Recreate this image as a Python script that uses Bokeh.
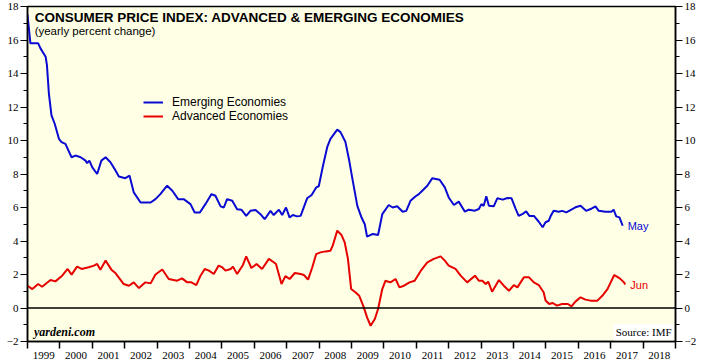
from bokeh.plotting import figure
from bokeh.models import (Range1d, LinearAxis, FixedTicker, Span, Label, Legend, LegendItem)
from bokeh.core.properties import value
from bokeh.embed import file_html
from bokeh.resources import INLINE

# ---------------- data ----------------
years = list(range(1999, 2019))
year_labels = [str(y) for y in years]

em_t = [1999.00, 1999.09, 1999.33, 1999.40, 1999.56, 1999.60, 1999.66, 1999.74, 1999.84, 1999.97,
        2000.05, 2000.17, 2000.36, 2000.48, 2000.64, 2000.79, 2000.84, 2000.91, 2001.00, 2001.15,
        2001.28, 2001.41, 2001.56, 2001.72, 2001.82, 2002.02, 2002.15, 2002.28, 2002.49, 2002.80,
        2002.95, 2003.10, 2003.31, 2003.47, 2003.65, 2003.82, 2004.03, 2004.16, 2004.32, 2004.49,
        2004.68, 2004.80, 2004.96, 2005.06, 2005.16, 2005.32, 2005.47, 2005.60, 2005.75, 2005.88,
        2006.04, 2006.19, 2006.32, 2006.50, 2006.60, 2006.76, 2006.86, 2006.98, 2007.09, 2007.19,
        2007.32, 2007.43, 2007.63, 2007.77, 2007.91, 2007.99, 2008.11, 2008.25, 2008.35, 2008.56,
        2008.66, 2008.81, 2008.92, 2009.02, 2009.18, 2009.31, 2009.41, 2009.48, 2009.66, 2009.82,
        2009.95, 2010.15, 2010.27, 2010.41, 2010.58, 2010.69, 2010.82, 2010.98, 2011.08, 2011.13,
        2011.34, 2011.49, 2011.72, 2011.88, 2012.00, 2012.16, 2012.31, 2012.50, 2012.62, 2012.81,
        2012.93, 2013.01, 2013.08, 2013.16, 2013.24, 2013.39, 2013.50, 2013.67, 2013.81, 2013.94,
        2014.06, 2014.16, 2014.27, 2014.39, 2014.49, 2014.63, 2014.78, 2014.90, 2014.99, 2015.09,
        2015.15, 2015.24, 2015.40, 2015.50, 2015.63, 2015.76, 2015.91, 2016.07, 2016.24, 2016.38,
        2016.53, 2016.63, 2016.84, 2017.02, 2017.09, 2017.17, 2017.27, 2017.37]
em_v = [17.5, 15.8, 15.8, 15.5, 15.0, 14.5, 12.8, 11.5, 11.0, 10.1,
        9.9, 9.8, 9.0, 9.1, 9.0, 8.8, 8.65, 8.8, 8.4, 8.0,
        8.8, 9.0, 8.7, 8.2, 7.85, 7.75, 7.9, 6.9, 6.3, 6.3,
        6.5, 6.8, 7.3, 7.0, 6.5, 6.5, 6.2, 5.7, 5.7, 6.2,
        6.8, 6.7, 6.07, 6.0, 6.5, 6.4, 5.9, 5.87, 5.5, 5.8,
        5.85, 5.6, 5.3, 5.8, 5.55, 5.87, 5.55, 6.0, 5.4, 5.55,
        5.47, 5.5, 6.55, 6.75, 7.2, 7.27, 8.4, 9.6, 10.1, 10.65,
        10.5, 9.93, 8.9, 7.8, 6.1, 5.4, 5.0, 4.26, 4.42, 4.36,
        5.6, 6.15, 6.0, 6.07, 5.75, 5.8, 6.4, 6.67, 6.8, 6.9,
        7.3, 7.74, 7.66, 7.2, 6.6, 6.15, 6.35, 5.75, 5.87, 5.81,
        5.91, 6.2, 6.1, 6.67, 6.1, 6.07, 6.55, 6.47, 6.57, 6.55,
        5.95, 5.5, 5.6, 5.77, 5.5, 5.5, 5.15, 4.82, 5.12, 5.21,
        5.5, 5.8, 5.75, 5.8, 5.71, 5.85, 6.01, 6.1, 5.8, 5.91,
        6.07, 5.8, 5.75, 5.75, 5.87, 5.47, 5.41, 4.91]

adv_t = [1999.00, 1999.15, 1999.33, 1999.45, 1999.71, 1999.86, 2000.07, 2000.24, 2000.36, 2000.53,
         2000.67, 2000.89, 2001.05, 2001.15, 2001.25, 2001.41, 2001.59, 2001.72, 2001.97, 2002.13,
         2002.28, 2002.44, 2002.64, 2002.80, 2002.95, 2003.16, 2003.36, 2003.62, 2003.77, 2003.93,
         2004.06, 2004.21, 2004.34, 2004.47, 2004.60, 2004.75, 2004.90, 2005.01, 2005.11, 2005.27,
         2005.34, 2005.47, 2005.65, 2005.75, 2005.91, 2006.07, 2006.24, 2006.45, 2006.60, 2006.67,
         2006.84, 2006.96, 2007.09, 2007.25, 2007.43, 2007.53, 2007.66, 2007.79, 2007.91, 2008.04,
         2008.20, 2008.35, 2008.42, 2008.56, 2008.69, 2008.79, 2008.89, 2008.99, 2009.12, 2009.24,
         2009.38, 2009.48, 2009.59, 2009.72, 2009.82, 2009.95, 2010.05, 2010.20, 2010.36, 2010.48,
         2010.62, 2010.79, 2010.95, 2011.13, 2011.34, 2011.54, 2011.75, 2011.88, 2012.00, 2012.21,
         2012.37, 2012.57, 2012.81, 2012.93, 2013.04, 2013.14, 2013.22, 2013.34, 2013.55, 2013.70,
         2013.86, 2014.01, 2014.12, 2014.32, 2014.48, 2014.63, 2014.78, 2014.93, 2014.99, 2015.10,
         2015.21, 2015.34, 2015.50, 2015.68, 2015.79, 2015.91, 2016.07, 2016.22, 2016.38, 2016.59,
         2016.74, 2016.90, 2017.00, 2017.11, 2017.18, 2017.28, 2017.41, 2017.45]
adv_v = [1.33, 1.13, 1.43, 1.27, 1.67, 1.59, 1.93, 2.33, 1.99, 2.47,
         2.33, 2.43, 2.53, 2.63, 2.29, 2.83, 2.29, 2.07, 1.43, 1.33,
         1.53, 1.19, 1.53, 1.47, 2.0, 2.3, 1.73, 1.63, 1.77, 1.53,
         1.53, 1.37, 1.93, 2.33, 2.23, 2.03, 2.53, 2.43, 2.23, 2.33,
         2.47, 2.03, 2.57, 3.08, 2.39, 2.63, 2.33, 2.93, 2.73, 2.63,
         1.43, 1.9, 1.73, 2.09, 2.03, 1.97, 1.69, 2.43, 3.22, 3.32,
         3.38, 3.42, 3.72, 4.62, 4.36, 3.92, 2.93, 1.13, 0.94, 0.73,
         0.04, -0.56, -1.06, -0.66, -0.06, 1.13, 1.63, 1.53, 1.73, 1.23,
         1.33, 1.53, 1.63, 2.2, 2.73, 2.93, 3.08, 2.83, 2.53, 2.33,
         1.93, 1.53, 1.93, 1.63, 1.63, 1.43, 1.57, 0.97, 1.67, 1.33,
         1.03, 1.37, 1.23, 1.83, 1.83, 1.53, 1.37, 0.94, 0.45, 0.24,
         0.30, 0.14, 0.24, 0.24, 0.10, 0.38, 0.64, 0.50, 0.44, 0.44,
         0.73, 1.13, 1.53, 1.97, 1.89, 1.77, 1.53, 1.40]

y_ticks = list(range(-2, 19, 2))
y_minor = list(range(-1, 18, 2))

BG = "#FFFFE6"
BLUE = "#0A0AD2"
RED = "#E60000"
SANS = "Liberation Sans"
SERIF = "Liberation Serif"

p = figure(width=703, height=361, output_backend="svg", toolbar_location=None,
           x_range=Range1d(1999, 2019), y_range=Range1d(-2, 18),
           x_axis_location=None, y_axis_location=None,
           min_border_left=27, min_border_right=28, min_border_top=6, min_border_bottom=19)
p.background_fill_color = BG
p.border_fill_color = "white"
p.outline_line_color = "black"
p.outline_line_width = 1.5
p.grid.visible = False

# x axis: ticks at year boundaries, labels centred in the year
xa = LinearAxis(ticker=FixedTicker(ticks=[y + 0.5 for y in years], minor_ticks=years + [2019]),
                major_label_overrides={y + 0.5: lab for y, lab in zip(years, year_labels)})
xa.major_tick_out = 0
xa.major_tick_in = 0
xa.minor_tick_out = 7
xa.minor_tick_in = 0
xa.minor_tick_line_width = 1.5
xa.axis_line_width = 1.5
xa.major_label_standoff = 3
xa.major_label_text_font = SERIF
xa.major_label_text_font_size = "11px"
xa.major_label_text_color = "black"
p.add_layout(xa, "below")

for side in ("left", "right"):
    ya = LinearAxis(ticker=FixedTicker(ticks=y_ticks, minor_ticks=y_minor))
    ya.major_tick_out = 7
    ya.major_tick_in = 0
    ya.minor_tick_out = 4
    ya.minor_tick_in = 0
    ya.major_tick_line_width = 1.2
    ya.minor_tick_line_width = 1.2
    ya.axis_line_width = 1.5
    ya.major_label_standoff = 2
    ya.major_label_text_font = SERIF
    ya.major_label_text_font_size = "11px"
    ya.major_label_text_color = "black"
    p.add_layout(ya, side)

p.add_layout(Span(location=0, dimension="width", line_color="black", line_width=1.5))

r_em = p.line(em_t, em_v, line_color=BLUE, line_width=2)
r_adv = p.line(adv_t, adv_v, line_color=RED, line_width=2)

# end labels
p.text(x=[em_t[-1]], y=[em_v[-1]], text=["May"], x_offset=5, text_baseline="middle",
       text_font=value(SANS), text_font_size="11px", text_color=BLUE)
p.text(x=[adv_t[-1]], y=[adv_v[-1]], text=["Jun"], x_offset=5, text_baseline="middle",
       text_font=value(SANS), text_font_size="11px", text_color=RED)

legend = Legend(items=[LegendItem(label="Emerging Economies", renderers=[r_em]),
                       LegendItem(label="Advanced Economies", renderers=[r_adv])],
                location=(116, 218), orientation="vertical",
                background_fill_alpha=0, border_line_alpha=0,
                glyph_width=20, glyph_height=14, label_height=14, label_standoff=9,
                spacing=0, padding=0, margin=0,
                label_text_font=SANS, label_text_font_size="12px", label_text_color="black")
p.add_layout(legend)

p.add_layout(Label(x=1999.22, y=17.35, text="CONSUMER PRICE INDEX: ADVANCED & EMERGING ECONOMIES",
                   text_font=SANS, text_font_style="bold", text_font_size="13.5px",
                   text_baseline="middle", text_color="black"))
p.add_layout(Label(x=1999.22, y=16.55, text="(yearly percent change)",
                   text_font=SANS, text_font_size="11.5px", text_baseline="middle", text_color="black"))
p.add_layout(Label(x=1999.2, y=-1.45, text="yardeni.com",
                   text_font=SERIF, text_font_style="bold italic", text_font_size="12px",
                   text_baseline="middle", text_color="black"))
p.add_layout(Label(x=2018.94, y=-1.45, text="Source: IMF", text_align="right",
                   text_font=SERIF, text_font_size="11px", text_baseline="middle", text_color="black",
                   background_fill_color="white", padding=2))

open("out.html", "w").write(file_html(p, INLINE))
